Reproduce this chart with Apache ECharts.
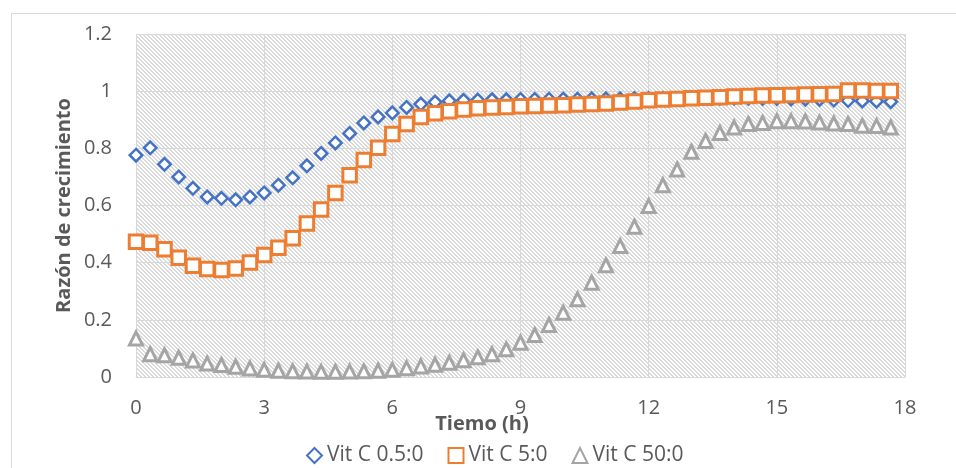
<!DOCTYPE html>
<html>
<head>
<meta charset="utf-8">
<title>Razón de crecimiento</title>
<script src="https://cdn.jsdelivr.net/npm/echarts@6/dist/echarts.min.js"></script>
<style>
  html, body { margin: 0; padding: 0; background: #fff; }
  #chart { width: 956px; height: 468px; }
</style>
</head>
<body>
<div id="chart"></div>
<script>
// tiempo (h), una lectura cada 20 min
const tiempo = [0, 0.333, 0.667, 1, 1.333, 1.667, 2, 2.333, 2.667, 3, 3.333, 3.667,
  4, 4.333, 4.667, 5, 5.333, 5.667, 6, 6.333, 6.667, 7, 7.333, 7.667,
  8, 8.333, 8.667, 9, 9.333, 9.667, 10, 10.333, 10.667, 11, 11.333, 11.667,
  12, 12.333, 12.667, 13, 13.333, 13.667, 14, 14.333, 14.667, 15, 15.333, 15.667,
  16, 16.333, 16.667, 17, 17.333, 17.667]

const vitC05 = [0.776, 0.802, 0.744, 0.700, 0.660, 0.630, 0.625, 0.620, 0.630, 0.644,
  0.671, 0.697, 0.739, 0.782, 0.819, 0.852, 0.889, 0.910, 0.924, 0.943,
  0.955, 0.962, 0.966, 0.968, 0.969, 0.970, 0.970, 0.971, 0.971, 0.972,
  0.972, 0.972, 0.973, 0.973, 0.973, 0.974, 0.974, 0.974, 0.974, 0.975,
  0.975, 0.975, 0.975, 0.975, 0.974, 0.974, 0.973, 0.972, 0.971, 0.969,
  0.967, 0.966, 0.965, 0.963]

const vitC5 = [0.473, 0.470, 0.447, 0.417, 0.389, 0.378, 0.374, 0.380, 0.401, 0.427,
  0.452, 0.485, 0.537, 0.586, 0.644, 0.706, 0.759, 0.802, 0.850, 0.885,
  0.910, 0.923, 0.930, 0.936, 0.940, 0.943, 0.945, 0.947, 0.948, 0.950,
  0.951, 0.953, 0.955, 0.957, 0.960, 0.964, 0.968, 0.971, 0.973, 0.975,
  0.977, 0.979, 0.981, 0.983, 0.985, 0.986, 0.987, 0.988, 0.989, 0.990,
  1.002, 1.002, 1.001, 1.001]

const vitC50 = [0.135, 0.080, 0.076, 0.067, 0.058, 0.047, 0.042, 0.036, 0.030, 0.025,
  0.022, 0.020, 0.019, 0.018, 0.018, 0.019, 0.020, 0.022, 0.025, 0.031,
  0.037, 0.043, 0.050, 0.059, 0.069, 0.080, 0.097, 0.120, 0.147, 0.182,
  0.225, 0.272, 0.330, 0.391, 0.458, 0.526, 0.598, 0.671, 0.726, 0.788,
  0.826, 0.854, 0.873, 0.885, 0.889, 0.895, 0.895, 0.894, 0.890, 0.887,
  0.885, 0.879, 0.878, 0.873]

const seriesNames = ["Vit C 0.5:0", "Vit C 5:0", "Vit C 50:0"]
const seriesColors = ["#4472C4", "#ED7D31", "#A5A5A5"]
const seriesSymbols = ["diamond", "rect", "triangle"]

const font = "'Open Sans', 'Noto Sans', sans-serif"

// fondo rayado del area de trazado
function hatch() {
  let c = document.createElement("canvas")
  c.width = 4
  c.height = 4
  let ctx = c.getContext("2d")
  ctx.fillStyle = "#fff"
  ctx.fillRect(0, 0, 4, 4)
  ctx.fillStyle = "#dadada"
  for (let i = 0; i < 4; i++) {
    ctx.fillRect(i, i, 1, 1)
    ctx.fillRect((i + 1) % 4, i, 1, 1)
  }
  return c
}

function pairs(values) {
  return values.map((v, i) => [tiempo[i], v])
}

const sizes = [12.5, 13.5, 13]

let myChart = echarts.init(document.getElementById("chart"))
myChart.setOption({
  animation: false,
  textStyle: { fontFamily: font },
  graphic: [
    { type: "line", shape: { x1: 11, y1: 13.5, x2: 956, y2: 13.5 }, style: { stroke: "#d9d9d9", lineWidth: 1 } },
    { type: "line", shape: { x1: 11.5, y1: 13, x2: 11.5, y2: 468 }, style: { stroke: "#d9d9d9", lineWidth: 1 } },
  ],
  grid: {
    left: 136,
    right: 51,
    top: 34,
    bottom: 91,
    show: true,
    borderWidth: 0,
    backgroundColor: { image: hatch(), repeat: "repeat" },
  },
  xAxis: {
    type: "value",
    min: 0,
    max: 18,
    interval: 3,
    name: "Tiemo (h)",
    nameLocation: "middle",
    nameGap: 37,
    nameMoveOverlap: false,
    nameTextStyle: {
      fontFamily: font,
      fontSize: 20,
      fontWeight: "bold",
      color: "#595959",
      padding: [0, 77, 0, 0],
    },
    axisLine: { lineStyle: { color: "#d9d9d9", width: 1 } },
    axisTick: { show: false },
    axisLabel: { fontFamily: font, fontSize: 20, color: "#595959", margin: 21 },
    splitLine: { show: true, lineStyle: { color: "#d9d9d9", width: 1 } },
  },
  yAxis: {
    type: "value",
    min: 0,
    max: 1.2,
    interval: 0.2,
    name: "Razón de crecimiento",
    nameLocation: "middle",
    nameGap: 62,
    nameMoveOverlap: false,
    nameTextStyle: { fontFamily: font, fontSize: 20, fontWeight: "bold", color: "#595959" },
    axisLine: { show: false },
    axisTick: { show: false },
    axisLabel: { fontFamily: font, fontSize: 20, color: "#595959", margin: 24 },
    splitLine: { lineStyle: { color: "#d9d9d9", width: 1 } },
  },
  legend: {
    left: 301,
    top: 440,
    itemWidth: 15,
    itemHeight: 15,
    itemGap: 24,
    textStyle: { fontFamily: font, fontSize: 21, color: "#595959" },
    data: seriesNames,
  },
  series: [vitC05, vitC5, vitC50].map((vals, k) => ({
    name: seriesNames[k],
    type: "scatter",
    symbol: seriesSymbols[k],
    symbolSize: sizes[k],
    data: pairs(vals),
    itemStyle: {
      color: "#fff",
      borderColor: seriesColors[k],
      borderWidth: k == 0 ? 2.5 : 3,
      opacity: 1,
    },
  })),
})
</script>
</body>
</html>
